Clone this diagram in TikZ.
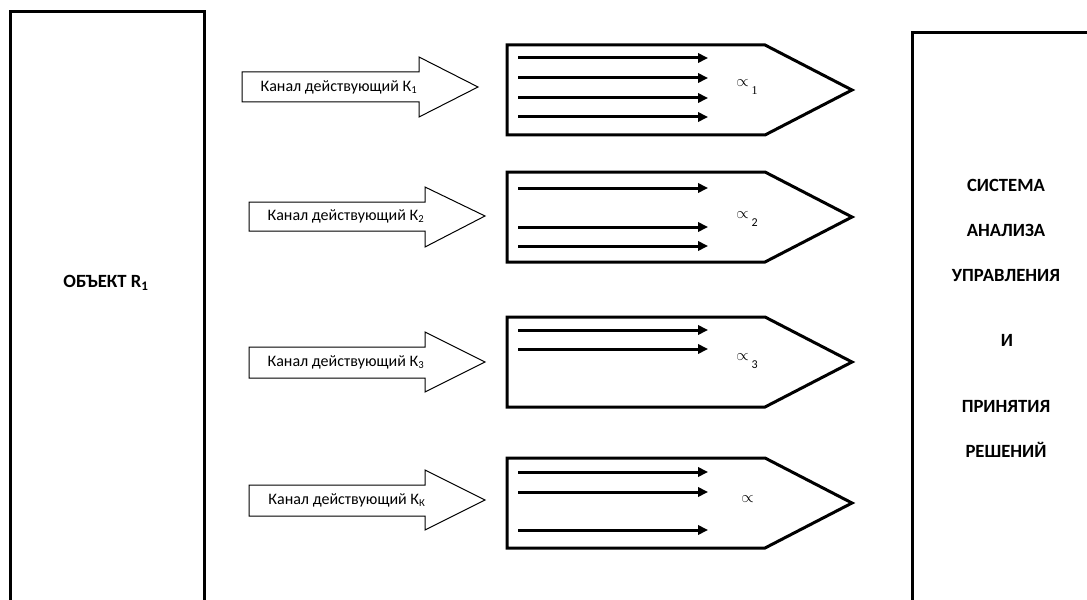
\documentclass[tikz,border=0pt]{standalone}
\usepackage{fontspec}
\setmainfont{Carlito}
\usetikzlibrary{arrows.meta,positioning,calc}
\tikzstyle{chan} = [draw=black, line width=0.75pt, fill=white, line join=miter]
\tikzstyle{blk} = [draw=black, line width=2.25pt, line join=miter]
\tikzstyle{flow} = [line width=2.25pt, -{Triangle[length=7.5pt,width=7pt]}]
\tikzstyle{lbl} = [inner sep=0pt, font=\fontsize{12}{14}\selectfont]
\tikzstyle{hdr} = [inner sep=0pt, font=\fontsize{14}{16}\selectfont\bfseries]
\tikzstyle{alf} = [inner sep=0pt, anchor=west, font=\fontsize{13}{15}\selectfont]
\begin{document}
\begin{tikzpicture}[x=0.75pt,y=-0.75pt]
\useasboundingbox (0,0) rectangle (1087,599);
\clip (0,0) rectangle (1087,599);
% object and decision system
\draw[blk] (10,12) rectangle (204,640);
\node[hdr] (obj) at (106,283) {ОБЪЕКТ R\textsubscript{1}};
\draw[blk] (912,33) rectangle (1120,640);
\node[hdr] (s1) at (1006,185) {СИСТЕМА};
\node[hdr] (s2) at (1006,230) {АНАЛИЗА};
\node[hdr] (s3) at (1006,276) {УПРАВЛЕНИЯ};
\node[hdr] (s4) at (1007,340) {И};
\node[hdr] (s5) at (1006,406) {ПРИНЯТИЯ};
\node[hdr] (s6) at (1006,450) {РЕШЕНИЙ};
% channels
\draw[chan] (242,72) -- (419,72) -- (419,57) -- (478,87) -- (419,117) -- (419,102) -- (242,102) -- cycle;
\node[lbl] (k1) at (339,87) {Канал действующий К\textsubscript{1}};
\draw[chan] (249,202) -- (425,202) -- (425,187) -- (485,216) -- (425,247) -- (425,231) -- (249,231) -- cycle;
\node[lbl] (k2) at (346,216) {Канал действующий К\textsubscript{2}};
\draw[chan] (249,347) -- (425,347) -- (425,332) -- (485,362) -- (425,392) -- (425,378) -- (249,378) -- cycle;
\node[lbl] (k3) at (346,362) {Канал действующий К\textsubscript{3}};
\draw[chan] (249,485) -- (425,485) -- (425,470) -- (485,500) -- (425,530) -- (425,516) -- (249,516) -- cycle;
\node[lbl] (kk) at (347,500) {Канал действующий К\textsubscript{К}};
% receivers
\draw[blk] (507,45) -- (765,45) -- (852,90) -- (765,135) -- (507,135) -- cycle;
\draw[blk] (507,172) -- (765,172) -- (852,217) -- (765,262) -- (507,262) -- cycle;
\draw[blk] (507,317) -- (765,317) -- (852,362) -- (765,407) -- (507,407) -- cycle;
\draw[blk] (507,458) -- (765,458) -- (852,503) -- (765,548) -- (507,548) -- cycle;
\foreach \y in {58,78,98,117,188,227,246,330,349,472,492,530}
  \draw[flow] (518,\y) -- (708,\y);
\node[alf] (a1) at (736,87) {$\propto$\,\raisebox{-1ex}{\small\fontspec{Liberation Serif}1}};
\node[alf] (a2) at (736,219) {$\propto$\,\raisebox{-1ex}{\small 2}};
\node[alf] (a3) at (736,361) {$\propto$\,\raisebox{-1ex}{\small 3}};
\node[alf] (ak) at (741,499) {$\propto$};
\end{tikzpicture}
\end{document}
